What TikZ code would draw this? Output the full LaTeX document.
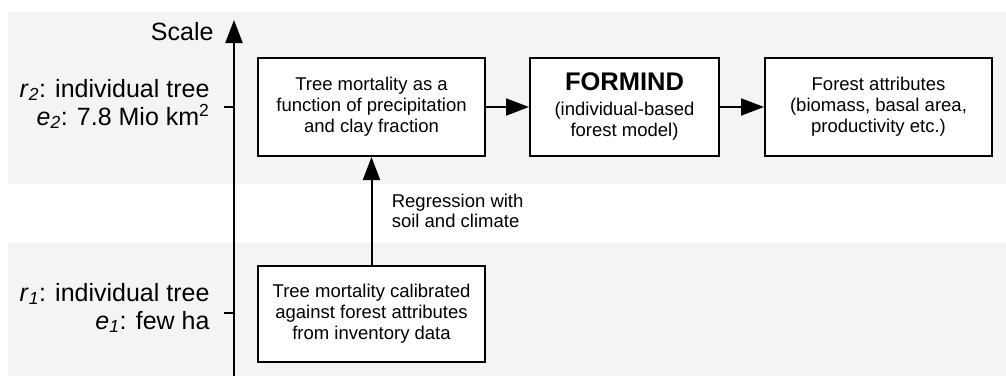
\documentclass[tikz,border=0pt]{standalone}
\usepackage{fontspec}
\setmainfont{Liberation Sans}
\usetikzlibrary{arrows.meta}
\definecolor{bandgray}{RGB}{244,244,244}

\begin{document}
\begin{tikzpicture}[x=1pt,y=1pt,
    modelbox/.style={draw,line width=2pt,fill=white,align=center,inner sep=0pt,
      font=\fontsize{18.5}{21}\selectfont},
    flow/.style={line width=2pt,-{Triangle[length=23pt,width=17pt]}},
    scalelabel/.style={anchor=east,align=right,font=\fontsize{25}{28}\selectfont}]
    \pgfmathsetmacro{\pagewidth}{1006}
    \pgfmathsetmacro{\pageheight}{376}
    \pgfmathsetmacro{\axisx}{234}
    \pgfmathsetmacro{\upperrow}{269}
    \pgfmathsetmacro{\lowerrow}{63}
    \useasboundingbox (0,0) rectangle (\pagewidth,\pageheight);
    % scale bands
    \fill[bandgray] (8,192) rectangle (\pagewidth,364);
    \fill[bandgray] (8,0) rectangle (\pagewidth,133);
    % scale axis
    \coordinate (axisbottom) at (\axisx,0);
    \coordinate (axistop) at (\axisx,356);
    \coordinate (tickupper) at (\axisx,\upperrow);
    \coordinate (ticklower) at (\axisx,\lowerrow);
    \draw[flow] (axisbottom) -- (axistop);
    \draw[line width=2pt] (tickupper) -- ++(-10,0);
    \draw[line width=2pt] (ticklower) -- ++(-10,0);
    \node[scalelabel] (scale) at (217,344) {Scale};
    \node[scalelabel] (level2) at (213,272)
      {\textit{r}\textsubscript{\textit{2}}: individual tree\\
       \textit{e}\textsubscript{\textit{2}}: 7.8 Mio km\textsuperscript{2}};
    \node[scalelabel] (level1) at (213,68)
      {\textit{r}\textsubscript{\textit{1}}: individual tree\\
       \textit{e}\textsubscript{\textit{1}}: few ha};
    % model chain
    \node[modelbox,minimum width=227,minimum height=98] (mortality) at (371.5,\upperrow)
      {Tree mortality as a\\function of precipitation\\and clay fraction};
    \node[modelbox,minimum width=189,minimum height=98] (formind) at (624.5,\upperrow)
      {{\fontsize{25.5}{28}\selectfont\bfseries FORMIND}\\[4pt](individual-based\\forest model)};
    \node[modelbox,minimum width=227,minimum height=98] (attributes) at (878.5,\upperrow)
      {Forest attributes\\(biomass, basal area,\\productivity etc.)};
    \node[modelbox,minimum width=227,minimum height=96] (calibrated) at (371.5,62)
      {Tree mortality calibrated\\against forest attributes\\from inventory data};
    \draw[flow] (mortality) -- (formind);
    \draw[flow] (formind) -- (attributes);
    \draw[flow] (calibrated) -- node[right=16pt,align=left,font=\fontsize{18.5}{20.5}\selectfont]
      (regression) {Regression with\\soil and climate} (mortality);
\end{tikzpicture}
\end{document}
